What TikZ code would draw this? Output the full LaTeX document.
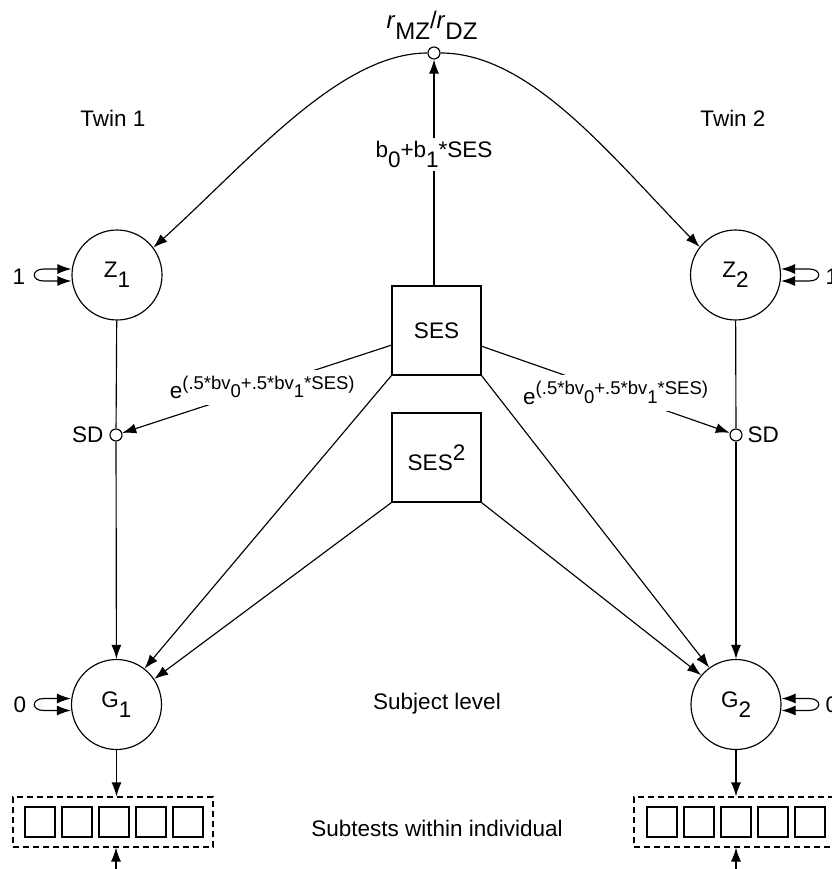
\documentclass[tikz,border=0pt]{standalone}
\usepackage{fontspec}
\setmainfont{Liberation Sans}
\usetikzlibrary{arrows.meta}
\newcommand\lowr[1]{\raisebox{-0.45em}{#1}}
\newcommand\expo[1]{e\raisebox{0.42em}{\fontsize{18.5}{22}\selectfont #1}}
\begin{document}
\begin{tikzpicture}[x=1pt,y=-1pt, line width=1.15pt,
  >={Latex[length=14pt,width=10pt]},
  font=\fontsize{22.5}{27}\selectfont,
  latent/.style={circle,draw,minimum size=90pt,inner sep=0pt},
  obs/.style={rectangle,draw,minimum size=89pt,inner sep=0pt},
  dot/.style={circle,draw,fill=white,minimum size=12pt,inner sep=0pt},
  sq/.style={rectangle,draw,minimum size=30pt,inner sep=0pt},
  dbox/.style={rectangle,draw,dash pattern=on 6pt off 4pt,minimum width=200pt,minimum height=50pt,inner sep=0pt},
  lbl/.style={inner sep=0pt}]
\useasboundingbox (0,0) rectangle (831,869);

\node[dot] (rc) at (434,53) {};
\node[lbl,font=\fontsize{24}{28}\selectfont] (top) at (432,25) {\textit{r}\lowr{MZ}/\textit{r}\lowr{DZ}};
\node[lbl] (tw1) at (113,118) {Twin 1};
\node[lbl] (tw2) at (733,118) {Twin 2};
\node[latent] (Z1) at (117,275) {Z\lowr{1}};
\node[latent] (Z2) at (735.5,275) {Z\lowr{2}};
\node[obs] (SES) at (436.5,330.5) {SES};
\node[obs] (SES2) at (436.5,457.5) {SES\raisebox{0.45em}{2}};
\node[dot] (SD1) at (116,435) {};
\node[dot] (SD2) at (736,435) {};
\node[lbl,anchor=east] (sdl1) at (104,435) {SD};
\node[lbl,anchor=west] (sdl2) at (747,435) {SD};
\node[latent] (G1) at (116.5,704.5) {G\lowr{1}};
\node[latent] (G2) at (736,704.5) {G\lowr{2}};
\node[lbl] (subj) at (437,704) {Subject level};
\node[dbox] (B1) at (113,822) {};
\node[dbox] (B2) at (734,822) {};
\foreach \i in {0,...,4} {
  \node[sq] (sa\i) at (40+37*\i,822) {};
  \node[sq] (sb\i) at (662+37*\i,822) {};
}
\node[lbl] (subt) at (437,828) {Subtests within individual};
\coordinate (in1) at (116,869);
\coordinate (in2) at (736,869);
\node[lbl] (l1) at (19,277) {1};
\node[lbl] (l0) at (20,705) {0};
\node[lbl,anchor=west] (r1) at (825,277) {1};
\node[lbl,anchor=west] (r0) at (825,705) {0};

% self loops
\draw[<->] ([yshift=6pt]Z1.west) -- (44,269) .. controls (31,269) and (31,281) .. (44,281) -- ([yshift=-6pt]Z1.west);
\draw[<->] ([yshift=6pt]G1.west) -- (44,698.5) .. controls (31,698.5) and (31,710.5) .. (44,710.5) -- ([yshift=-6pt]G1.west);
\draw[<->] ([yshift=6pt]Z2.east) -- (809,269) .. controls (822,269) and (822,281) .. (809,281) -- ([yshift=-6pt]Z2.east);
\draw[<->] ([yshift=6pt]G2.east) -- (809,698.5) .. controls (822,698.5) and (822,710.5) .. (809,710.5) -- ([yshift=-6pt]G2.east);

% correlation arc
\draw[->] (rc.west) .. controls (340,53) and (250,160) .. (Z1.37);
\draw[->] (rc.east) .. controls (530,53) and (610,155) .. (Z2.142);

% SES to correlation
\draw[->] (SES.north -| rc) -- node[pos=0.58,fill=white,inner sep=3pt] {b\lowr{0}+b\lowr{1}*SES} (rc);

% SES to SD
\draw[->] (SES) -- node[pos=0.48,fill=white,inner sep=6pt] {\expo{(.5*bv\lowr{0}+.5*bv\lowr{1}*SES)}} (SD1);
\draw[->] (SES) -- node[pos=0.54,fill=white,inner sep=6pt] {\expo{(.5*bv\lowr{0}+.5*bv\lowr{1}*SES)}} (SD2);

% vertical paths
\draw (Z1) -- (SD1);
\draw[->] (SD1) -- (G1);
\draw (Z2) -- (SD2);
\draw[->] (SD2) -- (G2);

% SES to G
\draw[->] (SES.south west) -- (G1.52);
\draw[->] (SES2.south west) -- (G1.34);
\draw[->] (SES.south east) -- (G2.126);
\draw[->] (SES2.south east) -- (G2.140);

% G to subtests
\draw[->] (G1.south) -- (G1.south |- B1.north);
\draw[->] (G2.south) -- (G2.south |- B2.north);
\draw[->] (in1) -- (in1 |- B1.south);
\draw[->] (in2) -- (in2 |- B2.south);
\end{tikzpicture}
\end{document}
